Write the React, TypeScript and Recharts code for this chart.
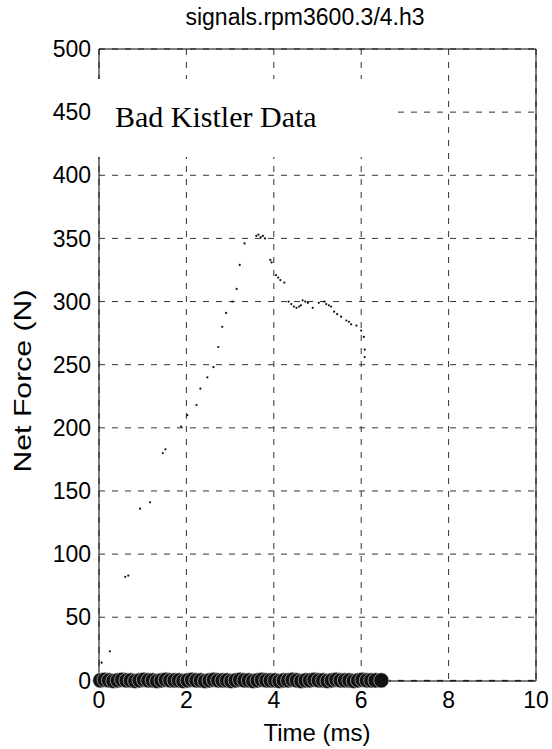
import { ScatterChart, Scatter, XAxis, YAxis, CartesianGrid, ReferenceLine } from 'recharts';

// sparse force samples (ms, N)
const forceTime = [0.02, 0.06, 0.25, 0.6, 0.67, 0.94, 1.17, 1.46, 1.52, 1.88, 2.02, 2.23, 2.32, 2.48, 2.62, 2.73, 2.82, 2.91, 3.05, 3.15, 3.22, 3.33, 3.6, 3.65, 3.7, 3.75, 3.8, 3.92, 3.95, 4.05, 4.1, 4.15, 4.24, 4.34, 4.4, 4.46, 4.52, 4.58, 4.62, 4.66, 4.72, 4.78, 4.89, 5.03, 5.15, 5.2, 5.26, 5.31, 5.38, 5.45, 5.54, 5.66, 5.72, 5.77, 5.89, 6.0, 6.06, 6.08, 6.08];
const forceValue = [5, 14, 23, 82, 83, 136, 141, 180, 183, 201, 210, 218, 231, 240, 248, 264, 280, 291, 300, 310, 329, 346, 352, 353, 351, 352, 350, 333, 331, 321, 319, 317, 315, 300, 298, 296, 295, 296, 297, 301, 300, 299, 295, 299, 300, 298, 297, 296, 292, 290, 288, 285, 284, 282, 281, 277, 272, 262, 256];

// zero-force markers (the thick band on the time axis)
const zeroTime = [0.03, 0.13, 0.23, 0.33, 0.43, 0.53, 0.63, 0.73, 0.83, 0.93, 1.03, 1.13, 1.23, 1.33, 1.43, 1.53, 1.63, 1.73, 1.83, 1.93, 2.03, 2.13, 2.23, 2.33, 2.43, 2.53, 2.63, 2.73, 2.83, 2.93, 3.03, 3.13, 3.23, 3.33, 3.43, 3.53, 3.63, 3.73, 3.83, 3.93, 4.03, 4.13, 4.23, 4.33, 4.43, 4.53, 4.63, 4.73, 4.83, 4.93, 5.03, 5.13, 5.23, 5.33, 5.43, 5.53, 5.63, 5.73, 5.83, 5.93, 6.03, 6.13, 6.23, 6.33, 6.46];
const zeroValue = [0, 0.5, 0, -0.5, 0, 0.5, 0, 0, -0.5, 0, 0.5, 0, 0, -0.5, 0, 0.5, 0, 0, 0, -0.5, 0, 0.5, 0, 0, -0.5, 0, 0.5, 0, 0, 0, -0.5, 0, 0.5, 0, 0, -0.5, 0, 0.5, 0, 0, 0, -0.5, 0, 0, 0.5, 0, -0.5, 0, 0, 0.5, 0, 0, -0.5, 0, 0.5, 0, 0, 0, -0.5, 0, 0.5, 0, 0, 0, 0];

const xTicks = [0, 2, 4, 6, 8, 10];
const yTicks = [0, 50, 100, 150, 200, 250, 300, 350, 400, 450, 500];

const title = 'signals.rpm3600.3/4.h3';
const xLabel = 'Time (ms)';
const yLabel = 'Net Force (N)';
const note = 'Bad Kistler Data';

const sans = '"Liberation Sans", Arial, Helvetica, sans-serif';
const serif = '"Liberation Serif", "Times New Roman", serif';

const forceData = forceTime.map((t, i) => ({ t, f: forceValue[i] }));
const zeroData = zeroTime.map((t, i) => ({ t, f: zeroValue[i] }));

const XLabelText = () => (
  <text x={317} y={741} textAnchor="middle" fontFamily={sans} fontSize={24} fill="#000">
    {xLabel}
  </text>
);

const YLabelText = () => (
  <text
    x={31}
    y={381}
    transform="rotate(-90 31 381)"
    textAnchor="middle"
    fontFamily={sans}
    fontSize={24}
    textLength={183}
    lengthAdjust="spacingAndGlyphs"
    fill="#000"
  >
    {yLabel}
  </text>
);

const Dot = (p: any) => <circle cx={p.cx} cy={p.cy} r={1.1} fill="#111" />;
const Ring = (p: any) => <circle cx={p.cx} cy={p.cy} r={7.6} fill="#111" stroke="#ddd" strokeWidth={0.6} />;

export default function App() {
  return (
    <div style={{ position: 'relative', width: 552, height: 749, background: '#fff' }}>
      <style>{'body{margin:0}'}</style>
      <ScatterChart width={552} height={749} margin={{ top: 49, right: 16, bottom: 18, left: 39 }}>
        <CartesianGrid stroke="#333" strokeDasharray="6 7" />
        <XAxis
          type="number"
          dataKey="t"
          domain={[0, 10]}
          ticks={xTicks}
          height={50}
          stroke="#000"
          tickLine={false}
          tickMargin={5}
          tick={{ fill: '#000', fontSize: 23, fontFamily: sans }}
          label={<XLabelText />}
        />
        <YAxis
          type="number"
          dataKey="f"
          domain={[0, 500]}
          ticks={yTicks}
          width={60}
          stroke="#000"
          tickLine={false}
          tickMargin={2}
          tick={{ fill: '#000', fontSize: 23, fontFamily: sans }}
          label={<YLabelText />}
        />
        <ReferenceLine y={500} stroke="#000" />
        <ReferenceLine x={10} stroke="#000" />
        <Scatter data={forceData} shape={Dot} isAnimationActive={false} />
        <Scatter data={zeroData} shape={Ring} isAnimationActive={false} />
      </ScatterChart>
      <svg width={552} height={749} style={{ position: 'absolute', left: 0, top: 0, pointerEvents: 'none' }}>
        <text x={305} y={25} textAnchor="middle" fontFamily={sans} fontSize={23} fill="#000">
          {title}
        </text>
        <rect x={97} y={79} width={298} height={78} fill="#fff" />
        <text x={115} y={127} fontFamily={serif} fontSize={30} fill="#000">
          {note}
        </text>
      </svg>
    </div>
  );
}
